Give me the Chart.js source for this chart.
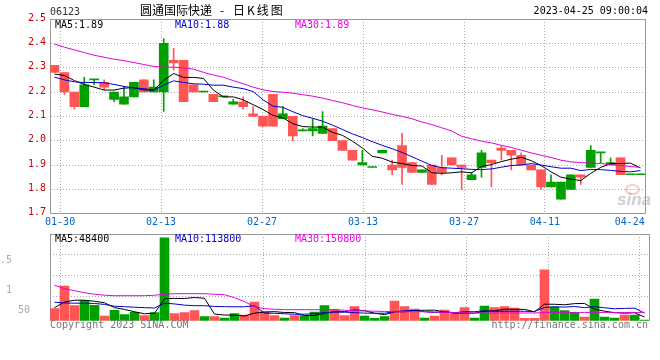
<!DOCTYPE html>
<html><head><meta charset="utf-8">
<script src="https://cdn.jsdelivr.net/npm/chart.js"></script>
<style>
html,body{margin:0;padding:0;background:#fff;}
#wrap{position:relative;width:660px;height:360px;overflow:hidden;background:#fff;}
canvas{position:absolute;left:0;}
.t{position:absolute;font-family:"DejaVu Sans Mono",monospace;font-size:10px;line-height:10px;white-space:pre;}
.c{position:absolute;font-family:"Noto Sans CJK SC",sans-serif;font-size:12px;line-height:12px;white-space:pre;color:#000;}
</style></head><body>
<div id="wrap">
<div style="position:absolute;left:625px;top:184px;width:11px;height:7px;border:2px solid rgba(235,140,140,0.45);border-radius:50%;"></div>
<div style="position:absolute;left:617px;top:190px;font:italic bold 17px 'Liberation Sans',sans-serif;color:rgba(165,165,165,0.55);">sina</div>
<canvas id="main" width="660" height="228" style="top:0;width:660px;height:228px"></canvas>
<canvas id="vol" width="660" height="100" style="top:228px;width:660px;height:100px"></canvas>
<div class="t" style="left:50px;top:7px;color:#333">06123</div>
<div class="c" style="left:140px;top:3.5px">圆通国际快递</div>
<div class="c" style="left:220px;top:3.5px">-</div>
<div class="c" style="left:233px;top:3.5px;letter-spacing:2px">日K线图</div>
<div class="t" style="right:12px;top:6px;color:#000">2023-04-25 09:00:04</div>
<div class="t" style="left:55px;top:19.5px;color:#000">MA5:1.89</div>
<div class="t" style="left:175px;top:19.5px;color:#0000cc">MA10:1.88</div>
<div class="t" style="left:295px;top:19.5px;color:#ee00ee">MA30:1.89</div>
<div class="t" style="left:55px;top:233.5px;color:#000">MA5:48400</div>
<div class="t" style="left:175px;top:233.5px;color:#0000cc">MA10:113800</div>
<div class="t" style="left:295px;top:233.5px;color:#ee00ee">MA30:150800</div>
<div class="t" style="left:50px;top:320px;color:#777">Copyright 2023 SINA.COM</div>
<div class="t" style="right:12px;top:320px;color:#777">http://finance.sina.com.cn</div>
</div>
<script>
// ---- data ----
const tickIdx = [1, 11, 21, 31, 41, 49, 58];
const tickLabels = ['01-30', '02-13', '02-27', '03-13', '03-27', '04-11', '04-24'];
const openP = [2.31,2.28,2.20,2.14,2.25,2.24,2.17,2.15,2.18,2.25,
 2.20,2.20,2.33,2.33,2.23,2.20,2.19,2.18,2.15,2.16,
 2.11,2.10,2.19,2.09,2.10,2.04,2.04,2.03,2.05,2.00,
 1.96,1.90,1.89,1.95,1.90,1.98,1.91,1.87,1.90,1.89,
 1.93,1.90,1.84,1.89,1.92,1.97,1.96,1.94,1.90,1.88,
 1.81,1.76,1.80,1.86,1.89,1.95,1.90,1.93,1.86,1.86];
const highP = [2.31,2.28,2.20,2.26,2.25,2.25,2.20,2.22,2.24,2.25,
 2.25,2.42,2.38,2.33,2.23,2.20,2.19,2.18,2.17,2.18,
 2.14,2.10,2.19,2.14,2.10,2.05,2.09,2.12,2.05,2.00,
 1.96,1.96,1.89,1.96,1.92,2.03,1.91,1.88,1.90,1.94,
 1.93,1.90,1.87,1.96,1.92,1.98,1.96,1.95,1.90,1.88,
 1.86,1.83,1.86,1.86,1.98,1.95,1.93,1.93,1.86,1.86];
const lowP = [2.28,2.19,2.13,2.14,2.23,2.21,2.16,2.15,2.18,2.20,
 2.20,2.12,2.29,2.16,2.20,2.20,2.16,2.18,2.15,2.13,
 2.10,2.06,2.06,2.09,2.00,2.04,2.02,2.03,2.00,1.96,
 1.92,1.90,1.89,1.95,1.86,1.82,1.87,1.87,1.82,1.86,
 1.90,1.80,1.84,1.85,1.81,1.92,1.88,1.90,1.88,1.80,
 1.81,1.76,1.80,1.82,1.89,1.91,1.90,1.86,1.86,1.86];
const closeP = [2.28,2.20,2.14,2.23,2.25,2.22,2.20,2.18,2.24,2.20,
 2.22,2.40,2.32,2.16,2.20,2.20,2.16,2.18,2.16,2.14,
 2.10,2.06,2.06,2.11,2.02,2.04,2.05,2.06,2.00,1.96,
 1.92,1.91,1.89,1.96,1.88,1.89,1.87,1.88,1.82,1.87,
 1.90,1.89,1.86,1.95,1.91,1.96,1.94,1.90,1.88,1.81,
 1.83,1.83,1.86,1.85,1.96,1.95,1.91,1.86,1.86,1.86];
const ma5 = [2.274,2.268,2.247,2.231,2.220,2.208,2.208,2.216,2.218,2.208,
 2.208,2.248,2.276,2.260,2.260,2.256,2.208,2.180,2.180,2.168,
 2.148,2.128,2.104,2.094,2.070,2.058,2.056,2.056,2.034,2.022,
 1.998,1.970,1.936,1.928,1.912,1.906,1.898,1.896,1.868,1.866,
 1.868,1.872,1.868,1.894,1.902,1.914,1.924,1.932,1.918,1.898,
 1.872,1.850,1.842,1.836,1.866,1.890,1.906,1.906,1.908,1.888];
const ma10 = [2.261,2.250,2.242,2.239,2.239,2.238,2.231,2.223,2.217,2.214,
 2.208,2.228,2.246,2.239,2.234,2.232,2.228,2.228,2.220,2.214,
 2.202,2.168,2.142,2.137,2.119,2.103,2.092,2.080,2.064,2.046,
 2.028,2.013,1.996,1.981,1.967,1.952,1.934,1.916,1.898,1.889,
 1.887,1.885,1.882,1.881,1.884,1.891,1.898,1.900,1.906,1.900,
 1.893,1.887,1.887,1.877,1.882,1.881,1.878,1.874,1.872,1.877];
const ma30 = [2.397,2.384,2.373,2.362,2.351,2.343,2.335,2.329,2.321,2.313,
 2.305,2.302,2.302,2.299,2.294,2.281,2.270,2.261,2.247,2.234,
 2.220,2.209,2.202,2.199,2.195,2.189,2.183,2.175,2.165,2.156,
 2.145,2.135,2.127,2.118,2.108,2.100,2.090,2.077,2.066,2.053,
 2.040,2.018,2.008,1.998,1.991,1.981,1.972,1.961,1.950,1.940,
 1.931,1.920,1.913,1.910,1.908,1.906,1.902,1.898,1.894,1.890];
const volume = [168000,486000,210000,280000,214000,66000,144000,84000,116000,70000,
 112000,1162000,98000,112000,140000,56000,56000,38000,98000,80000,
 262000,126000,70000,38000,70000,70000,122000,210000,158000,70000,
 196000,66000,32000,56000,276000,196000,164000,38000,66000,150000,
 88000,182000,38000,206000,182000,196000,178000,32000,32000,714000,
 192000,140000,116000,52000,304000,52000,38000,80000,80000,9000];
const volMa5 = [182000,262000,287000,287000,272000,251000,183000,158000,125000,97000,
 105000,309000,312000,311000,325000,314000,92000,80000,77000,66000,
 106000,120000,127000,115000,113000,74000,74000,102000,126000,126000,
 151000,140000,105000,84000,125000,125000,144000,146000,148000,123000,
 101000,105000,105000,133000,139000,161000,160000,158000,125000,231000,
 230000,223000,239000,242000,161000,133000,112000,105000,111000,52000];
const volMa10 = [259000,248000,245000,245000,241000,228000,203000,196000,189000,183000,
 178000,246000,235000,218000,210000,210000,200000,196000,195000,195000,
 210000,106000,104000,97000,90000,91000,98000,115000,120000,119000,
 113000,106000,104000,105000,126000,139000,143000,125000,116000,125000,
 113000,125000,126000,140000,132000,132000,133000,132000,129000,185000,
 195000,190000,199000,183000,196000,181000,167000,172000,176000,106000];
const volMa30 = [497000,448000,420000,392000,371000,357000,350000,350000,350000,350000,
 357000,371000,378000,378000,378000,378000,371000,364000,322000,266000,
 196000,168000,161000,154000,154000,154000,154000,154000,154000,147000,
 140000,136000,133000,130000,126000,126000,126000,126000,123000,119000,
 112000,109000,108000,108000,108000,108000,108000,108000,109000,112000,
 116000,116000,116000,116000,116000,116000,116000,116000,116000,116000];
const volTickValues = [150000, 430000, 840000];
const volTickLabels = ['50', '1', '.5'];
const volGridValues = [342000, 630000, 924000];

// ---- styles ----
const UP = '#00a000', DOWN = '#ff5555';
const BLUE = '#0000cc', MAG = '#e000e0';
const FRAME = '#999999', GRID = '#aaaaaa';
const MONO = 'DejaVu Sans Mono';
const DASH = [1, 2];
const VOL_MAX = 1214000;
const volLabelLead = [3, 1, 0];

const N = closeP.length;
const xc = i => i + 0.45;
const colors = closeP.map((c, i) => c >= openP[i] ? UP : DOWN);
const setDateTicks = s => { s.ticks = tickIdx.map(k => ({ value: k * N / (N - 1) })); };
const pts = arr => arr.map((v, i) => ({ x: xc(i), y: v }));
const line = (arr, color, axis) => ({ type: 'line', data: pts(arr), borderColor: color, borderWidth: 1,
  pointRadius: 0, tension: 0, order: 1, yAxisID: axis });

const frame = () => ({
  id: 'frame',
  afterDraw(chart) {
    const { ctx, chartArea: a } = chart;
    ctx.save();
    ctx.strokeStyle = FRAME; ctx.lineWidth = 1;
    ctx.beginPath();
    ctx.moveTo(a.left, Math.round(a.top) + 0.5);
    ctx.lineTo(a.right, Math.round(a.top) + 0.5);
    ctx.moveTo(Math.round(a.right) - 0.5, a.top);
    ctx.lineTo(Math.round(a.right) - 0.5, a.bottom);
    ctx.stroke();
    ctx.restore();
  }
});

const common = { responsive: false, animation: false, devicePixelRatio: 1,
  plugins: { legend: { display: false }, tooltip: { enabled: false } } };

new Chart(document.getElementById('main'), {
  type: 'bar',
  data: { datasets: [
    { type: 'bar', data: lowP.map((l, i) => ({ x: xc(i), y: [l, highP[i]] })), backgroundColor: colors,
      barThickness: 1, grouped: false, order: 3 },
    { type: 'bar', data: openP.map((o, i) => ({ x: xc(i), y: [o, closeP[i]] })), backgroundColor: colors,
      barThickness: 9, minBarLength: 1, grouped: false, order: 2 },
    line(ma30, MAG, 'y'), line(ma10, BLUE, 'y'), line(ma5, '#000', 'y')
  ] },
  options: Object.assign({}, common, {
    layout: { padding: { top: 19, right: 10, bottom: 0, left: 0 } },
    scales: {
      x: { type: 'linear', min: 0, max: N, offset: false, afterBuildTicks: setDateTicks,
        afterFit: s => { s.height = 14.3; },
        grid: { offset: false, drawTicks: false, lineWidth: 1,
          color: c => c.index === tickIdx.length - 1 ? 'rgba(0,0,0,0)' : GRID },
        border: { display: true, color: FRAME, width: 1, dash: DASH },
        ticks: { autoSkip: false, maxRotation: 0, minRotation: 0, padding: 3, color: '#0066cc',
          font: { family: MONO, size: 10 },
          callback: (v, i) => tickLabels[i] + (i === tickLabels.length - 1 ? '  ' : '') } },
      y: { type: 'linear', min: 1.7, max: 2.5, afterFit: s => { s.width = 50; },
        grid: { drawTicks: false, color: GRID, lineWidth: 1 },
        border: { display: true, color: FRAME, width: 1, dash: DASH },
        ticks: { stepSize: 0.1, padding: 4, color: '#cc0000', labelOffset: -1,
          font: { family: MONO, size: 10 }, callback: v => Number(v).toFixed(1) } }
    }
  }),
  plugins: [frame()]
});

new Chart(document.getElementById('vol'), {
  type: 'bar',
  data: { datasets: [
    { type: 'bar', data: volume.map((v, i) => ({ x: xc(i), y: v })), backgroundColor: colors,
      barThickness: 9, grouped: false, order: 2, yAxisID: 'y' },
    line(volMa30, MAG, 'y'), line(volMa10, BLUE, 'y'), line(volMa5, '#000', 'y')
  ] },
  options: Object.assign({}, common, {
    layout: { padding: { top: 6, right: 10, bottom: 7.3, left: 0 } },
    scales: {
      x: { type: 'linear', min: 0, max: N, offset: false, afterBuildTicks: setDateTicks,
        afterFit: s => { s.height = 0; },
        grid: { offset: false, drawTicks: false, lineWidth: 1, color: GRID },
        border: { display: false, dash: DASH },
        ticks: { display: false, autoSkip: false } },
      y: { type: 'linear', position: 'left', min: 0, max: VOL_MAX,
        afterBuildTicks: s => { s.ticks = volTickValues.map(v => ({ value: v })); },
        afterFit: s => { s.width = 50; },
        grid: { display: false, drawTicks: false },
        border: { display: true, color: FRAME, width: 1 },
        ticks: { padding: 0, crossAlign: 'far', color: '#aaaaaa', font: { family: MONO, size: 10 },
          callback: (v, i) => ' '.repeat(volLabelLead[i]) + volTickLabels[i] } },
      yg: { type: 'linear', position: 'right', min: 0, max: VOL_MAX,
        afterBuildTicks: s => { s.ticks = volGridValues.map(v => ({ value: v })); },
        afterFit: s => { s.width = 0; },
        grid: { drawTicks: false, color: GRID, lineWidth: 1 },
        border: { display: false, dash: DASH },
        ticks: { display: false } }
    }
  }),
  plugins: [frame()]
});
</script>
</body></html>
